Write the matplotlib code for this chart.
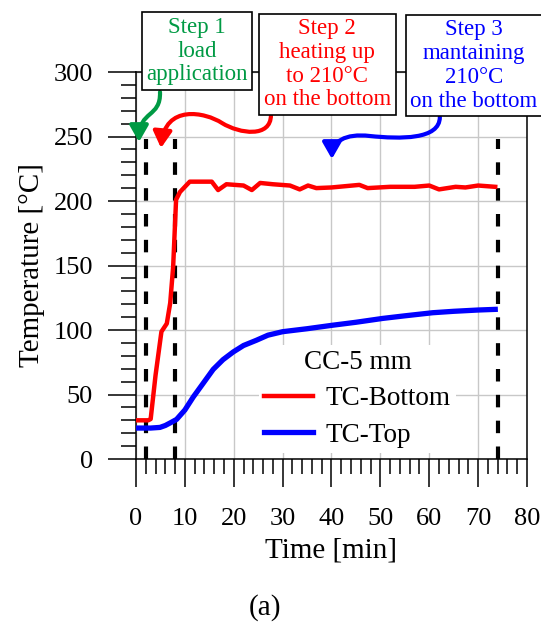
import numpy as np
import matplotlib.pyplot as plt
from matplotlib.path import Path
from matplotlib.patches import FancyArrowPatch
from matplotlib.ticker import MultipleLocator

plt.rcParams['font.family'] = ['Liberation Serif', 'DejaVu Serif']

# TC-Bottom (red)
t_bot = [0, 2.5, 3.0, 4.0, 5.2, 6.3, 7.0, 7.6, 8.2, 9.0, 11.0, 15.5, 16.8, 18.5, 22.0, 23.7,
         25.4, 28.0, 31.5, 33.5, 35.2, 36.9, 40.0, 45.7, 47.4, 52.0, 57.0, 60.0, 62.0, 65.4,
         67.4, 70.0, 73.5]
T_bot = [30, 30, 31, 65, 98.7, 105, 121, 149, 201, 207, 215, 215, 208.5, 213, 212, 208.5,
         214, 213, 212, 209, 212, 210, 210.5, 212.5, 210, 211, 211, 212, 209, 211,
         210.5, 212, 211]

# TC-Top (blue)
t_top = [0, 3.0, 4.9, 6.0, 7.0, 8.3, 10.0, 11.7, 13.8, 15.8, 17.8, 19.9, 22.0, 24.6, 27.0,
         30.0, 35.0, 40.2, 45.0, 50.5, 55.0, 60.7, 65.0, 70.0, 73.5]
T_top = [24, 24, 24.5, 26, 28, 30.7, 38, 48, 59, 69.5, 77, 83, 88, 92, 96,
         98.7, 101, 103.7, 106, 109, 111, 113.4, 114.5, 115.5, 116]

steps = [2, 8, 74]

fig = plt.figure(figsize=(5.41, 6.24), dpi=100)
ax = fig.add_axes([0.2514, 0.2644, 0.7227, 0.6202])

ax.grid(True, which='major', color='#c8c8c8', lw=1.0)
ax.set_axisbelow(True)

ax.vlines(steps, 0, 248, colors='black', lw=3, linestyles=(0, (3, 3.2)), zorder=3)

l1, = ax.plot(t_bot, T_bot, color='#ff0000', lw=3.2, label='TC-Bottom', zorder=3)
l2, = ax.plot(t_top, T_top, color='#0000ff', lw=3.8, label='TC-Top', zorder=3)

ax.set_xlim(0, 80)
ax.set_ylim(0, 300)
ax.xaxis.set_major_locator(MultipleLocator(10))
ax.xaxis.set_minor_locator(MultipleLocator(2))
ax.yaxis.set_major_locator(MultipleLocator(50))
ax.yaxis.set_minor_locator(MultipleLocator(10))
ax.tick_params(which='major', direction='out', length=20, width=1.1, labelsize=19)
ax.tick_params(which='minor', direction='out', length=11, width=1.1)
ax.tick_params(axis='x', which='major', pad=15)
ax.tick_params(axis='y', which='major', pad=11)
for s in ax.spines.values():
    s.set_linewidth(1.1)

ax.set_xlabel('Time [min]', fontsize=21, labelpad=6)
ax.set_ylabel('Temperature [°C]', fontsize=21, labelpad=6)

leg = ax.legend(handles=[l1, l2], title='CC-5 mm', loc='lower left',
                bbox_to_anchor=(0.28, -0.02), fontsize=19.5, title_fontsize=19.5,
                frameon=True, framealpha=1, edgecolor='none', fancybox=False,
                handlelength=1.78, handletextpad=0.48, borderpad=0.2, labelspacing=0.42)
leg.get_frame().set_linewidth(0)
leg.set_zorder(2)

fig.text(0.49, 0.027, '(a)', ha='center', va='center', fontsize=21)

# step boxes
box = dict(boxstyle='square,pad=0.2', fc='white', ec='black', lw=1.2)
fig.text(0.364, 0.918, 'Step 1\nload\napplication', color='#009a44', ha='center', va='center',
         fontsize=16.5, linespacing=1.17, bbox=box, zorder=10)
fig.text(0.605, 0.897, 'Step 2\nheating up\nto 210°C\non the bottom', color='#ff0000',
         ha='center', va='center', fontsize=16.5, linespacing=1.17, bbox=box, zorder=10)
fig.text(0.876, 0.895, 'Step 3\nmantaining\n210°C\non the bottom', color='#0000ff',
         ha='center', va='center', fontsize=16.5, linespacing=1.17, bbox=box, zorder=10)


def px(x, y):
    return ((x - 136) / 4.89, (459 - y) / 1.29)


def arrow(pts, codes, color):
    verts = [px(*p) for p in pts]
    p = FancyArrowPatch(path=Path(verts, codes), arrowstyle='-|>,head_length=0.7,head_width=0.4',
                        color=color, lw=3, mutation_scale=14, transform=ax.transData,
                        clip_on=False, zorder=9, shrinkA=0, shrinkB=0)
    ax.add_patch(p)


C4 = Path.CURVE4
arrow([(160, 92), (161, 118), (139, 110), (139, 142)], [Path.MOVETO, C4, C4, C4], '#009a44')
arrow([(271, 115), (271, 138), (240, 134), (222, 123), (205, 112), (165, 104), (161, 148)],
      [Path.MOVETO, C4, C4, C4, C4, C4, C4], '#ff0000')
arrow([(440, 117), (440, 140), (400, 139), (370, 136), (345, 133), (332, 142), (332, 159)],
      [Path.MOVETO, C4, C4, C4, C4, C4, C4], '#0000ff')

plt.savefig('out.png', dpi=100)
